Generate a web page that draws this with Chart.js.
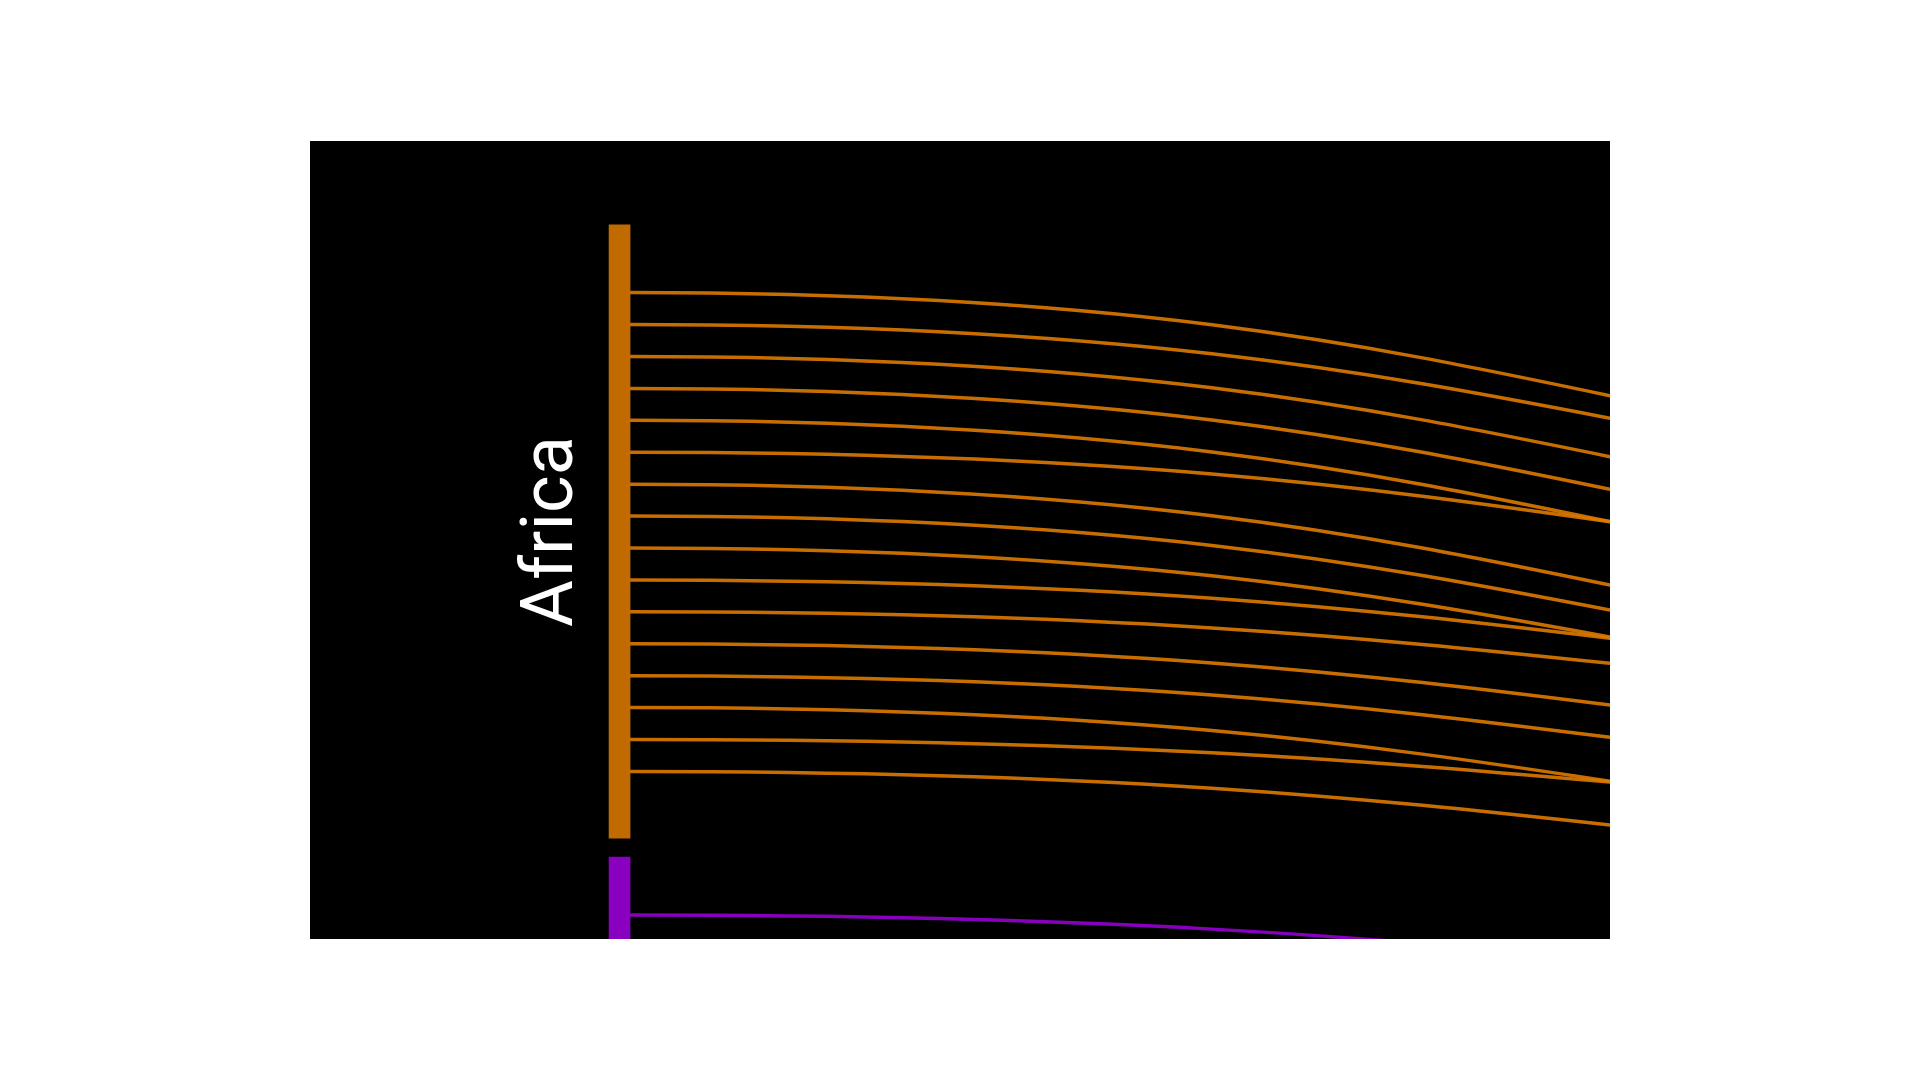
<!DOCTYPE html>
<html>
<head>
<meta charset="utf-8">
<script src="https://cdn.jsdelivr.net/npm/chart.js@4.4.1/dist/chart.umd.min.js"></script>
<style>
html,body{margin:0;padding:0;background:#ffffff;width:1920px;height:1080px;overflow:hidden;}
#frame{position:absolute;left:310px;top:141px;width:1300px;height:798px;background:#000000;}
#frame canvas{display:block;}
</style>
</head>
<body>
<div id="frame"><canvas id="chart"></canvas></div>
<script>
// ---- Nodes of the first column (vertical extent in flow units) ----
const nodeLabels = ['Africa', ''];
const nodeTop = [2.63, 22.43];
const nodeBottom = [21.84, 27.5];
const nodeColors = ['#c06a00', '#8a00c0'];

// ---- Links: node index, position at source side, position at target side ----
const linkNode = [0, 0, 0, 0, 0, 0, 0, 0, 0, 0, 0, 0, 0, 0, 0, 0, 1];
const linkSource = [4.75, 5.75, 6.75, 7.75, 8.75, 9.75, 10.75, 11.75, 12.75, 13.75, 14.75, 15.75, 16.75, 17.75, 18.75, 19.75, 24.25];
const linkTarget = [11.21, 11.62, 13.03, 14.07, 15.10, 14.10, 17.07, 17.64, 18.33, 17.41, 17.98, 19.59, 20.61, 22.36, 21.42, 23.11, 27.07];
const linkColors = ['rgba(222,122,0,0.9)', 'rgba(145,0,205,0.92)'];

// ---- Columns (x in column units) and visible window ----
const SOURCE_COLUMN = 0;
const TARGET_COLUMN = 1;
const NODE_CENTER = -0.00536;
const X_MIN = -0.1633, X_MAX = 0.5;
const Y_MIN = 0, Y_MAX = 25;

const datasets = [];
datasets.push({
  type: 'bar',
  label: 'nodes',
  data: nodeLabels.map((_, i) => ({x: NODE_CENTER, y: [nodeTop[i], nodeBottom[i]]})),
  backgroundColor: nodeColors,
  borderWidth: 0,
  barThickness: 21,
  order: 1
});
linkSource.forEach((s, i) => {
  datasets.push({
    type: 'line',
    label: 'link ' + (i + 1),
    data: [{x: SOURCE_COLUMN, y: s}, {x: TARGET_COLUMN, y: linkTarget[i]}],
    borderColor: linkColors[linkNode[i]],
    borderWidth: 3.5,
    pointRadius: 0,
    tension: 0.5,
    fill: false,
    order: 0
  });
});

// Sankey-style link shape: horizontal tangents at both ends (control points at mid x)
const sankeyCurves = {
  id: 'sankeyCurves',
  afterDatasetsUpdate(chart) {
    chart.data.datasets.forEach((ds, i) => {
      if (ds.type !== 'line') return;
      const meta = chart.getDatasetMeta(i);
      const pts = meta.data;
      for (let k = 0; k < pts.length - 1; k++) {
        const a = pts[k], b = pts[k + 1];
        const mx = (a.x + b.x) / 2;
        a.cp2x = mx; a.cp2y = a.y;
        b.cp1x = mx; b.cp1y = b.y;
      }
      if (pts.length) {
        pts[0].cp1x = pts[0].x; pts[0].cp1y = pts[0].y;
        const l = pts[pts.length - 1];
        l.cp2x = l.x; l.cp2y = l.y;
      }
      if (meta.dataset) meta.dataset._pointsUpdated = true;
    });
  }
};

// Node labels, rotated, to the left of each node bar
const nodeLabelPlugin = {
  id: 'nodeLabels',
  afterDatasetsDraw(chart) {
    const meta = chart.getDatasetMeta(0);
    const ctx = chart.ctx;
    meta.data.forEach((bar, i) => {
      const text = nodeLabels[i];
      if (!text) return;
      const p = bar.getProps(['x', 'y', 'base', 'width'], true);
      const left = p.x - p.width / 2;
      const cy = (p.y + p.base) / 2;
      ctx.save();
      ctx.translate(left - 37, cy);
      ctx.rotate(-Math.PI / 2);
      ctx.fillStyle = '#ffffff';
      ctx.font = '400 72px Roboto, "Liberation Sans", sans-serif';
      ctx.textAlign = 'center';
      ctx.textBaseline = 'alphabetic';
      ctx.fillText(text, 0, 0);
      ctx.restore();
    });
  }
};

new Chart(document.getElementById('chart'), {
  type: 'bar',
  data: {datasets},
  options: {
    responsive: true,
    maintainAspectRatio: false,
    animation: false,
    events: [],
    layout: {padding: 0},
    plugins: {legend: {display: false}, tooltip: {enabled: false}},
    scales: {
      x: {type: 'linear', min: X_MIN, max: X_MAX, display: false, offset: false},
      y: {type: 'linear', min: Y_MIN, max: Y_MAX, reverse: true, display: false}
    }
  },
  plugins: [sankeyCurves, nodeLabelPlugin]
});
</script>
</body>
</html>
